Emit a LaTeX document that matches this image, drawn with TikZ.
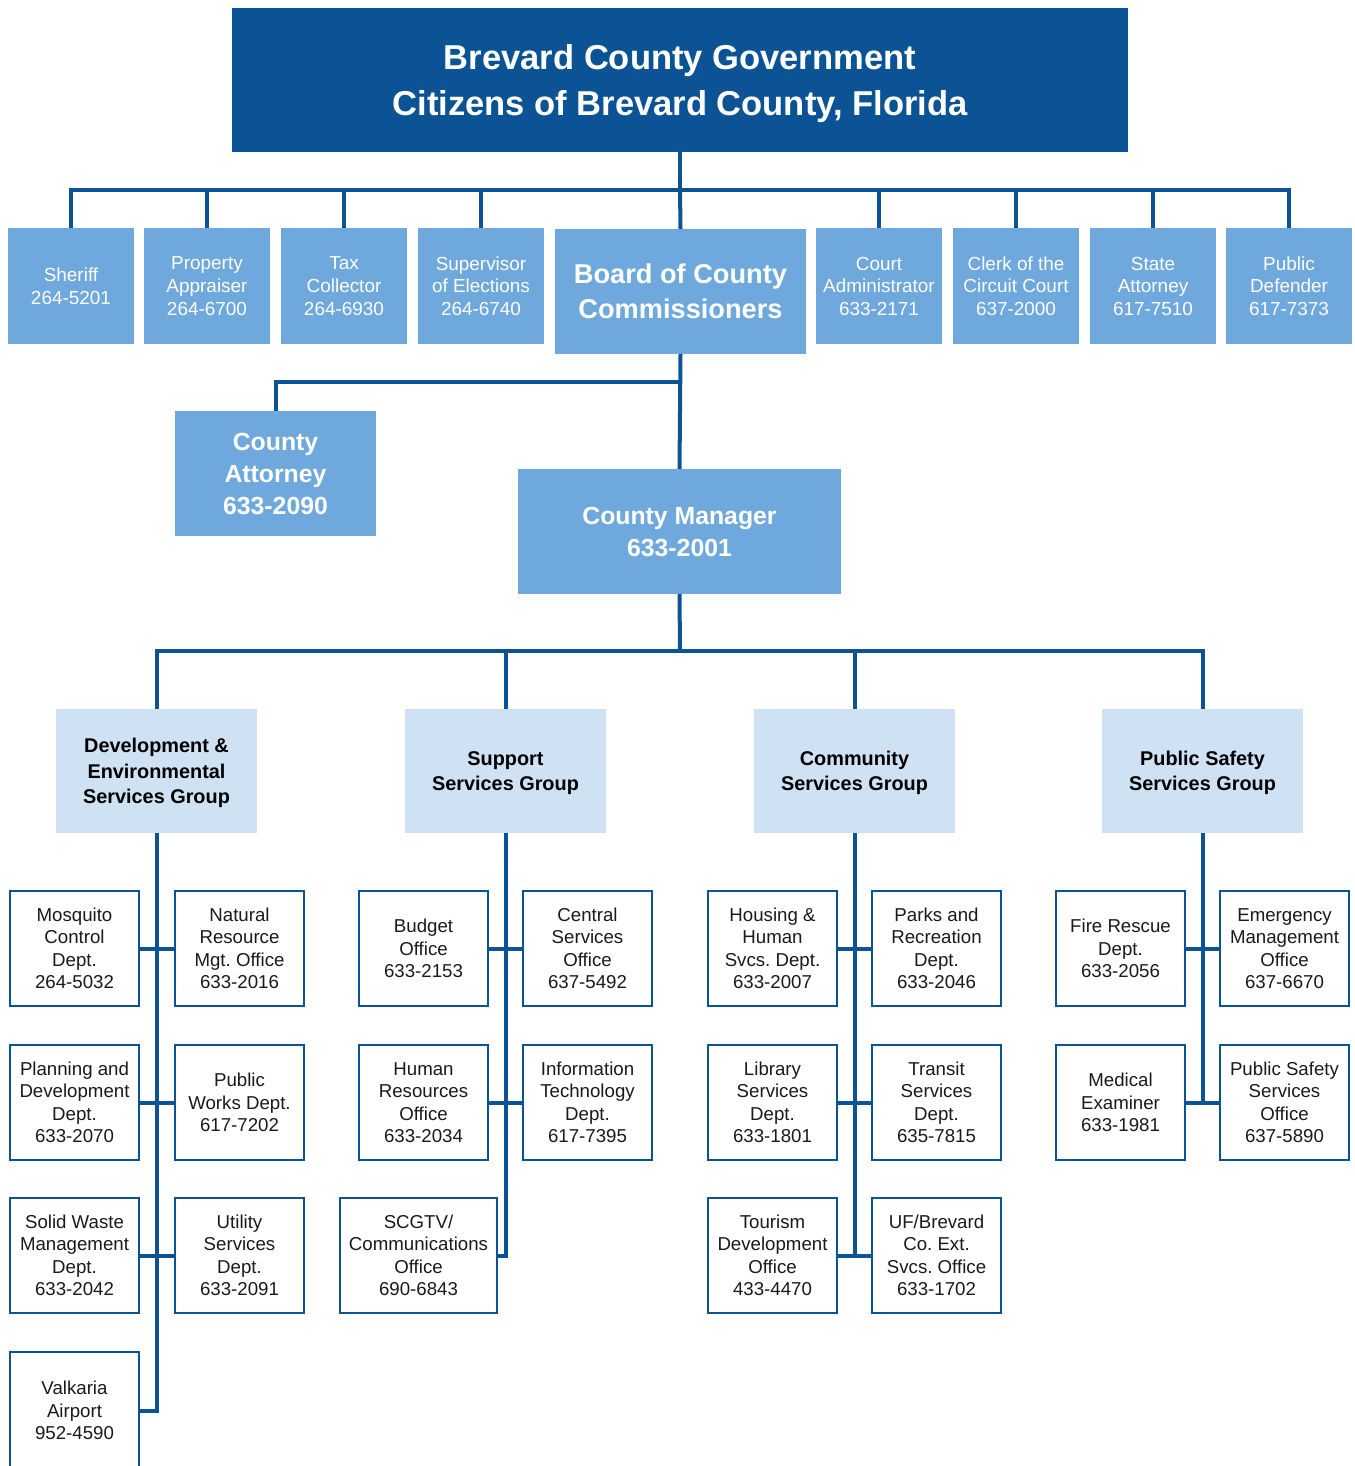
\documentclass[tikz,border=0pt]{standalone}
\usepackage{fontspec}
\setmainfont{Liberation Sans}
\frenchspacing
\definecolor{db}{HTML}{0B5394}
\definecolor{lb}{HTML}{6FA8DC}
\definecolor{pale}{HTML}{CFE2F3}
\definecolor{txt}{HTML}{1A1A1A}
\newcommand\bx[7]{\node[#6, minimum width={(#4-#2)*0.75pt}, minimum height={(#5-#3)*0.75pt}] (#1) at ({(#2+#4)/2},{(#3+#5)/2}) {#7};}
\begin{document}
\begin{tikzpicture}[x=0.75pt,y=-0.75pt,
  every node/.style={inner sep=0pt, outer sep=0pt, align=center},
  titlebox/.style={fill=db, text=white, font=\bfseries\fontsize{25.9}{33.8}\selectfont, text depth=-3pt},
  topbox/.style={fill=lb, text=white, font=\fontsize{14.2}{16.9}\selectfont, text depth=0pt},
  bigbox/.style={fill=lb, text=white, font=\bfseries\fontsize{20.4}{26.2}\selectfont, text depth=0pt},
  midbox/.style={fill=lb, text=white, font=\bfseries\fontsize{18.6}{24}\selectfont},
  grpbox/.style={fill=pale, text=black, font=\bfseries\fontsize{14.9}{19.1}\selectfont, text depth=-1pt},
  deptbox/.style={draw=db, line width=1.5pt, fill=white, text=txt, font=\fontsize{14}{16.9}\selectfont},
  conn/.style={draw=db, line width=3pt}]
\clip (0,0) rectangle (1354,1466);
\fill[white] (0,0) rectangle (1354,1466);
% top
\bx{title}{232}{8}{1128}{152}{titlebox}{Brevard County Government\\Citizens of Brevard County, Florida}
\bx{sheriff}{8}{228}{134}{344}{topbox}{Sheriff\\264-5201}
\bx{prop}{144}{228}{270}{344}{topbox}{Property\\Appraiser\\264-6700}
\bx{tax}{281}{228}{407}{344}{topbox}{Tax\\Collector\\264-6930}
\bx{soe}{418}{228}{544}{344}{topbox}{Supervisor\\of Elections\\264-6740}
\bx{board}{555}{229}{806}{354}{bigbox}{Board of County\\Commissioners}
\bx{court}{816}{228}{942}{344}{topbox}{Court\\Administrator\\633-2171}
\bx{clerk}{953}{228}{1079}{344}{topbox}{Clerk of the\\Circuit Court\\637-2000}
\bx{state}{1090}{228}{1216}{344}{topbox}{State\\Attorney\\617-7510}
\bx{pd}{1226}{228}{1352}{344}{topbox}{Public\\Defender\\617-7373}
\bx{att}{175}{411}{376}{536}{midbox}{County\\Attorney\\633-2090}
\bx{cm}{518}{469}{841}{594}{midbox}{County Manager\\633-2001}
% groups
\bx{dev}{56}{709}{257}{833}{grpbox}{Development \&\\Environmental\\Services Group}
\bx{sup}{405}{709}{606}{833}{grpbox}{Support\\Services Group}
\bx{com}{754}{709}{955}{833}{grpbox}{Community\\Services Group}
\bx{pss}{1102}{709}{1303}{833}{grpbox}{Public Safety\\Services Group}
% development
\bx{mos}{10}{891}{139}{1006}{deptbox}{Mosquito\\Control\\Dept.\\264-5032}
\bx{nat}{175}{891}{304}{1006}{deptbox}{Natural\\Resource\\Mgt. Office\\633-2016}
\bx{pla}{10}{1045}{139}{1160}{deptbox}{Planning and\\Development\\Dept.\\633-2070}
\bx{pw}{175}{1045}{304}{1160}{deptbox}{Public\\Works Dept.\\617-7202}
\bx{sw}{10}{1198}{139}{1313}{deptbox}{Solid Waste\\Management\\Dept.\\633-2042}
\bx{ut}{175}{1198}{304}{1313}{deptbox}{Utility\\Services\\Dept.\\633-2091}
\bx{val}{10}{1352}{139}{1469}{deptbox}{Valkaria\\Airport\\952-4590}
% support
\bx{bud}{359}{891}{488}{1006}{deptbox}{Budget\\Office\\633-2153}
\bx{cen}{523}{891}{652}{1006}{deptbox}{Central\\Services\\Office\\637-5492}
\bx{hr}{359}{1045}{488}{1160}{deptbox}{Human\\Resources\\Office\\633-2034}
\bx{it}{523}{1045}{652}{1160}{deptbox}{Information\\Technology\\Dept.\\617-7395}
\bx{scg}{340}{1198}{497}{1313}{deptbox}{SCGTV/\\Communications\\Office\\690-6843}
% community
\bx{hou}{708}{891}{837}{1006}{deptbox}{Housing \&\\Human\\Svcs. Dept.\\633-2007}
\bx{par}{872}{891}{1001}{1006}{deptbox}{Parks and\\Recreation\\Dept.\\633-2046}
\bx{lib}{708}{1045}{837}{1160}{deptbox}{Library\\Services\\Dept.\\633-1801}
\bx{tra}{872}{1045}{1001}{1160}{deptbox}{Transit\\Services\\Dept.\\635-7815}
\bx{tou}{708}{1198}{837}{1313}{deptbox}{Tourism\\Development\\Office\\433-4470}
\bx{uf}{872}{1198}{1001}{1313}{deptbox}{UF/Brevard\\Co. Ext.\\Svcs. Office\\633-1702}
% public safety
\bx{fire}{1056}{891}{1185}{1006}{deptbox}{Fire Rescue\\Dept.\\633-2056}
\bx{em}{1220}{891}{1349}{1006}{deptbox}{Emergency\\Management\\Office\\637-6670}
\bx{med}{1056}{1045}{1185}{1160}{deptbox}{Medical\\Examiner\\633-1981}
\bx{pso}{1220}{1045}{1349}{1160}{deptbox}{Public Safety\\Services\\Office\\637-5890}
% connectors
\coordinate (busT) at (680,190);
\coordinate (busA) at (680,382);
\coordinate (busG) at (680,651);
\draw[conn] (title.south) -- (busT);
\foreach \n in {sheriff,prop,tax,soe,court,clerk,state,pd}{\draw[conn] (busT) -| (\n.north);}
\draw[conn] (busT) -- (board.north);
\draw[conn] (board.south) -- (cm.north);
\draw[conn] (busA) -| (att.north);
\draw[conn] (cm.south) -- (busG);
\foreach \n in {dev,sup,com,pss}{\draw[conn] (busG) -| (\n.north);}
\draw[conn] (dev.south) |- (val.east);
\draw[conn] (sup.south) |- (scg.east);
\draw[conn] (com.south) -- (com.south |- tou.east);
\draw[conn] (pss.south) -- (pss.south |- med.east);
\draw[conn] (mos.east) -- (nat.west);
\draw[conn] (pla.east) -- (pw.west);
\draw[conn] (sw.east) -- (ut.west);
\draw[conn] (bud.east) -- (cen.west);
\draw[conn] (hr.east) -- (it.west);
\draw[conn] (hou.east) -- (par.west);
\draw[conn] (lib.east) -- (tra.west);
\draw[conn] (tou.east) -- (uf.west);
\draw[conn] (fire.east) -- (em.west);
\draw[conn] (med.east) -- (pso.west);
\end{tikzpicture}
\end{document}
